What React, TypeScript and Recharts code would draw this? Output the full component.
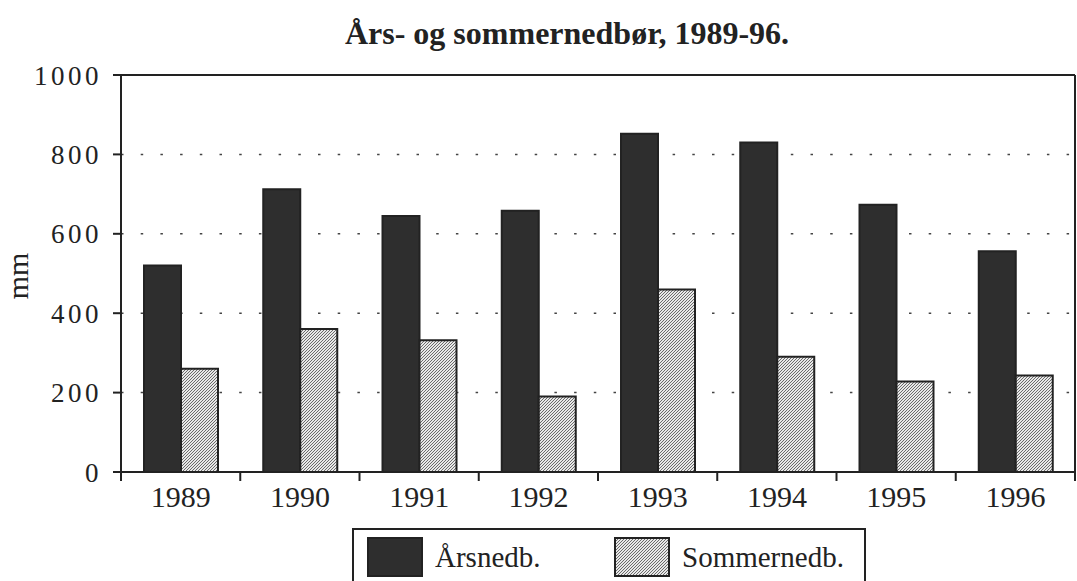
import React from 'react';
import { BarChart, Bar, XAxis, YAxis, CartesianGrid, ReferenceLine } from 'recharts';

const years = ['1989', '1990', '1991', '1992', '1993', '1994', '1995', '1996'];
const arsnedb = [520, 712, 645, 658, 852, 830, 673, 556];
const sommernedb = [260, 360, 332, 190, 460, 290, 228, 243];
const yTicks = [0, 200, 400, 600, 800, 1000];
const title = 'Års- og sommernedbør, 1989-96.';
const yLabel = 'mm';
const seriesNames = ['Årsnedb.', 'Sommernedb.'];

const data = years.map((y, i) => ({ year: y, ars: arsnedb[i], sommer: sommernedb[i] }));

const W = 1077;
const H = 581;
const FONT = '"Liberation Serif", "Times New Roman", serif';
const INK = '#222';
const margin = { top: 75, right: 1, left: 21, bottom: 79 };
const yAxisWidth = 100;
const rightAxisWidth = 1;
const plotWidth = W - margin.left - margin.right - yAxisWidth - rightAxisWidth;
const halfBand = plotWidth / years.length / 2;

const series = [
  { key: 'ars', name: seriesNames[0], fill: '#2e2e2e' },
  { key: 'sommer', name: seriesNames[1], fill: 'url(#hatch)' },
];

const XTick = (props: any) => {
  const { x, y, payload, index } = props;
  return (
    <g>
      <line x1={x - halfBand} x2={x - halfBand} y1={y} y2={y + 9} stroke={INK} strokeWidth={2} />
      {index === years.length - 1 && (
        <line x1={x + halfBand} x2={x + halfBand} y1={y} y2={y + 9} stroke={INK} strokeWidth={2} />
      )}
      <text x={x} y={y + 35} textAnchor="middle" fontSize={30} fontFamily={FONT} fill={INK}>
        {payload.value}
      </text>
    </g>
  );
};

export default function App() {
  return (
    <div style={{ position: 'absolute', left: 0, top: 0, width: W, height: H, background: '#fff', overflow: 'hidden' }}>
      <svg width={0} height={0} style={{ position: 'absolute' }}>
        <defs>
          <pattern id="hatch" width={3} height={3} patternUnits="userSpaceOnUse">
            <rect width={3} height={3} fill="#e8e8e8" />
            <path d="M-1,1 L1,-1 M0,3 L3,0 M2,4 L4,2" stroke="#555" strokeWidth={0.85} />
          </pattern>
        </defs>
      </svg>
      <BarChart width={W} height={H} data={data} margin={margin} barGap={0} barSize={37}>
        <CartesianGrid vertical={false} stroke="#444" strokeWidth={1.5} strokeDasharray="2.5 17.2" />
        <XAxis
          dataKey="year"
          height={30}
          tickSize={0}
          tickMargin={0}
          tickLine={false}
          axisLine={{ stroke: INK, strokeWidth: 2 }}
          tick={<XTick />}
          interval={0}
        />
        <YAxis
          width={yAxisWidth}
          domain={[0, 1000]}
          ticks={yTicks}
          interval={0}
          tickSize={8}
          tickMargin={11}
          axisLine={{ stroke: INK, strokeWidth: 2 }}
          tickLine={{ stroke: INK, strokeWidth: 2 }}
          tick={{ fontSize: 27, fontFamily: FONT, fill: INK, letterSpacing: 3.5 }}
        />
        <YAxis
          yAxisId="r"
          orientation="right"
          width={rightAxisWidth}
          domain={[0, 1000]}
          tick={false}
          tickLine={false}
          axisLine={{ stroke: INK, strokeWidth: 2 }}
        />
        <ReferenceLine y={1000} stroke={INK} strokeWidth={2} />
        {series.map((s) => (
          <Bar
            key={s.key}
            dataKey={s.key}
            name={s.name}
            fill={s.fill}
            stroke={INK}
            strokeWidth={2}
            isAnimationActive={false}
          />
        ))}
      </BarChart>
      <svg width={W} height={H} style={{ position: 'absolute', left: 0, top: 0, pointerEvents: 'none' }}>
        <text x={567} y={44} textAnchor="middle" fontSize={32} fontWeight="bold" fontFamily={FONT} fill={INK}>
          {title}
        </text>
        <text
          transform="translate(28,276) rotate(-90)"
          textAnchor="middle"
          fontSize={30}
          fontFamily={FONT}
          fill={INK}
        >
          {yLabel}
        </text>
      </svg>
      <div
        style={{
          position: 'absolute',
          left: 352,
          top: 528,
          width: 514,
          height: 80,
          boxSizing: 'border-box',
          border: `2px solid ${INK}`,
          background: '#fff',
        }}
      >
        {series.map((s, i) => (
          <div key={s.key} style={{ position: 'absolute', left: [13, 260][i], top: 7, display: 'flex', alignItems: 'center' }}>
            <svg width={56} height={40}>
              <rect x={1} y={1} width={54} height={38} fill={s.fill} stroke={INK} strokeWidth={2} />
            </svg>
            <span style={{ marginLeft: 12, fontFamily: FONT, fontSize: 29, color: INK, lineHeight: '40px' }}>{s.name}</span>
          </div>
        ))}
      </div>
    </div>
  );
}
